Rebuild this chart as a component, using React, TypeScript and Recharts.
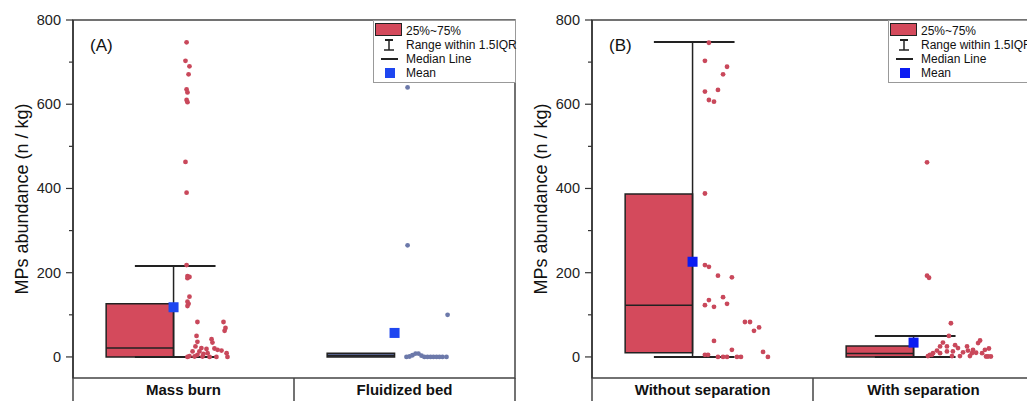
import React from 'react';
import { ComposedChart, Scatter, XAxis, YAxis, ReferenceArea, ReferenceLine, Legend } from 'recharts';

const yTicks = [0, 100, 200, 300, 400, 500, 600, 700, 800];

const panelACategories = ['Mass burn', 'Fluidized bed'];
const panelBCategories = ['Without separation', 'With separation'];

// [Q1, median, Q3] per category
const panelAQuartiles = [[0, 21, 126], [0, 3, 9]];
const panelBQuartiles = [[10, 123, 387], [0, 8, 26]];
// [lower, upper] whisker (null = not drawn)
const panelAWhiskers = [[0, 216], null];
const panelBWhiskers = [[0, 748], [0, 50]];
const panelAMeans = [118, 57];
const panelBMeans = [226, 34];

// raw samples, jitter is the horizontal offset (fraction of category width)
const massBurnValues = [747, 703, 690, 671, 635, 628, 610, 605, 463, 390, 218, 192, 190, 187, 143, 131, 126, 121, 83, 83, 69, 62, 50, 36, 42, 34, 25, 21, 19, 20, 17, 15, 13, 13, 9, 9, 2, 1, 1, 0, 0, 0, 0, 5, 7];
const massBurnJitter = [0.014, 0.009, 0.027, 0.023, 0.014, 0.018, 0.014, 0.018, 0.009, 0.014, 0.014, 0.018, 0.027, 0.018, 0.027, 0.018, 0.023, 0.018, 0.063, 0.181, 0.19, 0.186, 0.059, 0.063, 0.127, 0.131, 0.054, 0.081, 0.104, 0.14, 0.154, 0.172, 0.041, 0.072, 0.109, 0.195, 0.027, 0.05, 0.086, 0.118, 0.149, 0.199, 0.018, 0.063, 0.09];

const fluidizedValues = [640, 265, 100, 0, 1, 4, 8, 8, 3, 0, 0, 0, 0, 0, 0, 0, 0];
const fluidizedJitter = [0.014, 0.014, 0.195, 0.009, 0.023, 0.036, 0.05, 0.063, 0.077, 0.09, 0.104, 0.118, 0.131, 0.145, 0.158, 0.172, 0.19];

const withoutSepValues = [746, 703, 689, 671, 634, 630, 610, 606, 388, 218, 214, 193, 189, 123, 135, 119, 142, 126, 83, 83, 62, 70, 38, 17, 12, 0, 5, 5, 0, 0, 0, 0, 0];
const withoutSepJitter = [0.029, 0.011, 0.111, 0.093, 0.07, 0.011, 0.029, 0.052, 0.011, 0.011, 0.029, 0.07, 0.133, 0.011, 0.029, 0.052, 0.093, 0.111, 0.192, 0.215, 0.233, 0.256, 0.052, 0.133, 0.274, 0.296, 0.011, 0.025, 0.07, 0.093, 0.111, 0.156, 0.174];

const withSepValues = [462, 193, 188, 80, 50, 34, 25, 25, 15, 9, 5, 5, 2, 28, 13, 21, 11, 25, 15, 9, 17, 33, 39, 10, 9, 1, 1, 1, 2, 2, 2, 17, 9, 13, 20];
const withSepJitter = [0.016, 0.016, 0.025, 0.124, 0.115, 0.088, 0.075, 0.106, 0.061, 0.043, 0.029, 0.038, 0.02, 0.143, 0.133, 0.156, 0.179, 0.197, 0.201, 0.219, 0.224, 0.247, 0.256, 0.238, 0.265, 0.283, 0.292, 0.305, 0.165, 0.129, 0.21, 0.278, 0.075, 0.106, 0.296];

const RED = '#d44a5c';
const DOT_RED = '#c9485b';
const SLATE = '#55608a';
const DOT_SLATE = '#6c79aa';

const BOX_L = -0.35;
const BOX_R = -0.045;
const CAP_L = -0.22;
const CAP_R = 0.145;

const YTick = ({ x, y, payload }: any) => {
  const major = payload.value % 200 === 0;
  const axisX = x + 12;
  return (
    <g>
      <line x1={axisX - (major ? 7 : 4)} x2={axisX} y1={y} y2={y} stroke="#333" strokeWidth={1.2} />
      {major && (
        <text x={x} y={y} textAnchor="end" dominantBaseline="central" fontSize={14.5} fill="#222">
          {payload.value}
        </text>
      )}
    </g>
  );
};

const YTitle = ({ viewBox }: any) => {
  const cx = viewBox.x + 22;
  const cy = viewBox.y + viewBox.height / 2;
  return (
    <text x={cx} y={cy} transform={`rotate(-90 ${cx} ${cy})`} textAnchor="middle" dominantBaseline="central" fontSize={18} fill="#111">
      MPs abundance (n / kg)
    </text>
  );
};

const LegendBox = ({ meanColor }: any) => {
  const row: React.CSSProperties = { display: 'flex', alignItems: 'center', height: 14 };
  const icon: React.CSSProperties = { width: 32, height: 14, position: 'relative', flex: 'none' };
  return (
    <div style={{ border: '1px solid #999', background: '#fff', fontSize: 12, color: '#111', padding: '3px 0 2px 0', whiteSpace: 'nowrap', boxSizing: 'border-box' }}>
      <div style={row}>
        <div style={icon}>
          <div style={{ position: 'absolute', left: 1, top: -1, width: 27, height: 13, background: RED, border: '1.5px solid #222', boxSizing: 'border-box' }} />
        </div>
        <span>25%~75%</span>
      </div>
      <div style={row}>
        <div style={icon}>
          <svg width={32} height={14} style={{ position: 'absolute', left: 0, top: 0 }}>
            <line x1={11} x2={19} y1={2} y2={2} stroke="#222" strokeWidth={2} />
            <line x1={15} x2={15} y1={2} y2={12} stroke="#222" strokeWidth={1.5} />
            <line x1={10} x2={20} y1={12} y2={12} stroke="#222" strokeWidth={1.5} />
          </svg>
        </div>
        <span>Range within 1.5IQR</span>
      </div>
      <div style={row}>
        <div style={icon}>
          <div style={{ position: 'absolute', left: 7, top: 6, width: 17, height: 2, background: '#222' }} />
        </div>
        <span>Median Line</span>
      </div>
      <div style={row}>
        <div style={icon}>
          <div style={{ position: 'absolute', left: 11, top: 2, width: 10, height: 10, background: meanColor }} />
        </div>
        <span>Mean</span>
      </div>
    </div>
  );
};

type PanelProps = {
  tag: string;
  categories: string[];
  quartiles: number[][];
  whiskers: (number[] | null)[];
  means: number[];
  samples: { values: number[]; jitter: number[]; color: string }[];
  boxColors: string[];
  meanColor: string;
  legendLeft: number;
};

function Panel({ tag, categories, quartiles, whiskers, means, samples, boxColors, meanColor, legendLeft }: PanelProps) {
  const centers = categories.map((_, i) => i + 0.5);
  const meanData = means.map((m, i) => ({ x: centers[i] + BOX_R, y: m }));
  return (
    <div style={{ position: 'relative', width: 520, height: 420 }}>
      <ComposedChart width={520} height={420} margin={{ top: 20, right: 5, bottom: 0, left: 0 }}>
        <XAxis
          type="number"
          dataKey="x"
          domain={[0, 2]}
          allowDataOverflow
          ticks={centers}
          interval={0}
          tickFormatter={(v: number) => categories[Math.floor(v)]}
          tickLine={false}
          axisLine={false}
          tickSize={0}
          tickMargin={6}
          height={42}
          tick={{ fontSize: 15, fontWeight: 'bold', fill: '#111' }}
        />
        <YAxis
          type="number"
          dataKey="y"
          domain={[-50, 800]}
          allowDataOverflow
          ticks={yTicks}
          interval={0}
          width={73}
          tickSize={7}
          tickMargin={5}
          tickLine={false}
          axisLine={{ stroke: '#333', strokeWidth: 1.5 }}
          tick={<YTick />}
          label={<YTitle />}
        />
        <ReferenceArea x1={0} x2={2} y1={-50} y2={800} fill="none" fillOpacity={0} stroke="#444" strokeWidth={1.5} ifOverflow="visible" />
        {[0, 1, 2].map((x) => (
          <ReferenceLine key={`div${x}`} segment={[{ x, y: -50 }, { x, y: -160 }]} stroke="#444" strokeWidth={1.5} ifOverflow="visible" />
        ))}
        {quartiles.map((q, i) => (
          <ReferenceArea
            key={`box${i}`}
            x1={centers[i] + BOX_L}
            x2={centers[i] + BOX_R}
            y1={q[0]}
            y2={q[2]}
            fill={boxColors[i]}
            fillOpacity={1}
            stroke="#222"
            strokeWidth={1.5}
            ifOverflow="visible"
          />
        ))}
        {quartiles.map((q, i) => (
          <ReferenceLine
            key={`med${i}`}
            segment={[{ x: centers[i] + BOX_L, y: q[1] }, { x: centers[i] + BOX_R, y: q[1] }]}
            stroke="#222"
            strokeWidth={1.5}
            ifOverflow="visible"
          />
        ))}
        {whiskers.map((w, i) =>
          w ? (
            <ReferenceLine
              key={`wv${i}`}
              segment={[{ x: centers[i] + BOX_R, y: w[0] }, { x: centers[i] + BOX_R, y: w[1] }]}
              stroke="#222"
              strokeWidth={1.5}
              ifOverflow="visible"
            />
          ) : null
        )}
        {whiskers.map((w, i) =>
          w
            ? w.map((v, j) => (
                <ReferenceLine
                  key={`cap${i}-${j}`}
                  segment={[{ x: centers[i] + CAP_L, y: v }, { x: centers[i] + CAP_R, y: v }]}
                  stroke="#222"
                  strokeWidth={2}
                  ifOverflow="visible"
                />
              ))
            : null
        )}
        {samples.map((s, i) => (
          <Scatter
            key={`pts${i}`}
            data={s.values.map((v, k) => ({ x: centers[i] + s.jitter[k], y: v }))}
            isAnimationActive={false}
            shape={(p: any) => <circle cx={p.cx} cy={p.cy} r={2.4} fill={s.color} />}
          />
        ))}
        <Scatter
          data={meanData}
          isAnimationActive={false}
          shape={(p: any) => <rect x={p.cx - 5} y={p.cy - 5} width={10} height={10} fill={meanColor} />}
        />
        <Legend
          layout="vertical"
          align="center"
          verticalAlign="middle"
          content={<LegendBox meanColor={meanColor} />}
          wrapperStyle={{ left: legendLeft, top: 20, width: 143 }}
        />
      </ComposedChart>
      <div style={{ position: 'absolute', left: 90, top: 37, fontSize: 17, lineHeight: '17px', color: '#111' }}>{tag}</div>
    </div>
  );
}

export default function App() {
  return (
    <div
      style={{
        position: 'absolute',
        left: 0,
        top: 0,
        width: 1027,
        height: 401,
        overflow: 'hidden',
        background: '#fff',
        fontFamily: '"Liberation Sans", Arial, sans-serif',
      }}
    >
      <div style={{ position: 'absolute', left: 0, top: 0 }}>
        <Panel
          tag="(A)"
          categories={panelACategories}
          quartiles={panelAQuartiles}
          whiskers={panelAWhiskers}
          means={panelAMeans}
          samples={[
            { values: massBurnValues, jitter: massBurnJitter, color: DOT_RED },
            { values: fluidizedValues, jitter: fluidizedJitter, color: DOT_SLATE },
          ]}
          boxColors={[RED, SLATE]}
          meanColor="#1e46f0"
          legendLeft={373}
        />
      </div>
      <div style={{ position: 'absolute', left: 519, top: 0 }}>
        <Panel
          tag="(B)"
          categories={panelBCategories}
          quartiles={panelBQuartiles}
          whiskers={panelBWhiskers}
          means={panelBMeans}
          samples={[
            { values: withoutSepValues, jitter: withoutSepJitter, color: DOT_RED },
            { values: withSepValues, jitter: withSepJitter, color: DOT_RED },
          ]}
          boxColors={[RED, RED]}
          meanColor="#0b1cf2"
          legendLeft={369}
        />
      </div>
    </div>
  );
}
